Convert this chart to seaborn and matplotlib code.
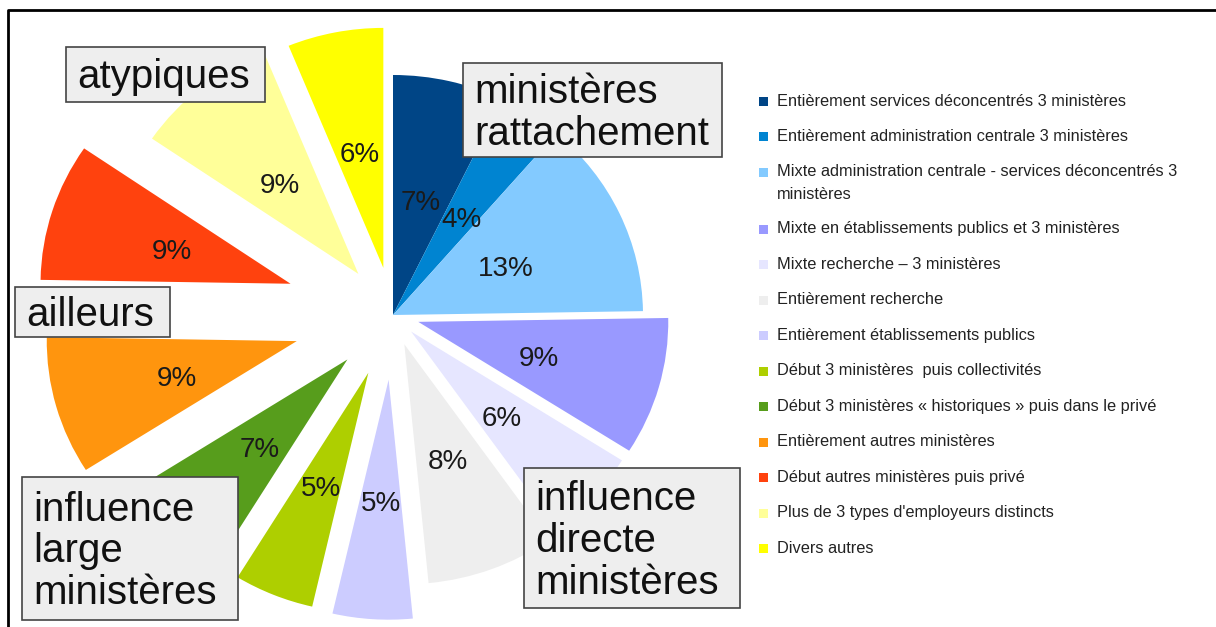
import matplotlib
matplotlib.use("Agg")
import matplotlib.pyplot as plt
import seaborn as sns
from matplotlib.patches import Rectangle
from matplotlib.lines import Line2D

# ---- data ----
categories = [
    "Entièrement services déconcentrés 3 ministères",
    "Entièrement administration centrale 3 ministères",
    "Mixte administration centrale - services déconcentrés 3\nministères",
    "Mixte en établissements publics et 3 ministères",
    "Mixte recherche – 3 ministères",
    "Entièrement recherche",
    "Entièrement établissements publics",
    "Début 3 ministères  puis collectivités",
    "Début 3 ministères « historiques » puis dans le privé",
    "Entièrement autres ministères",
    "Début autres ministères puis privé",
    "Plus de 3 types d'employeurs distincts",
    "Divers autres",
]
values = [7, 4, 13, 9, 6, 8, 5, 5, 7, 9, 9, 9, 6]
group_labels = ["atypiques", "ministères\nrattachement", "ailleurs",
                "influence\nlarge\nministères", "influence\ndirecte\nministères"]

# ---- style ----
colors = ["#004586", "#0084d1", "#83caff", "#9999ff", "#e6e6ff", "#eeeeee",
          "#ccccff", "#aecf00", "#579d1c", "#ff950e", "#ff420e", "#ffff99", "#ffff00"]
explode = [0, 0, 0, 0.105, 0.1, 0.13, 0.27, 0.26, 0.26, 0.40, 0.43, 0.22, 0.2]

sns.set_theme(style="white")
plt.rcParams['font.family'] = ['Liberation Sans', 'DejaVu Sans']

W, H = 1216, 627
fig = plt.figure(figsize=(W / 100, H / 100), dpi=100)
fig.patch.set_facecolor("white")

# pie axes: centre at pixel (cx, cy) measured from top-left
cx, cy = 393, 315
rx, ry = 250, 240
axp = fig.add_axes([0, 0, 1, 1])
total = sum(values)
wedges, texts, autotexts = axp.pie(
    values, colors=colors, explode=explode, startangle=90, counterclock=False,
    autopct=lambda p: f"{p * total / 100:.0f}%", pctdistance=0.5,
    wedgeprops=dict(linewidth=0),
    textprops=dict(fontsize=20, color="#1a1a1a"), frame=False)
for t in autotexts:
    x, y = t.get_position()
    t.set_position((x, y - 5 / ry))
axp.set_aspect("auto")
axp.set_xlim(-cx / rx, (W - cx) / rx)
axp.set_ylim(-(H - cy) / ry, cy / ry)
axp.axis("off")

# overlay axes in pixel coordinates for boxes, legend and frame
axo = fig.add_axes([0, 0, 1, 1])
axo.set_xlim(0, W)
axo.set_ylim(H, 0)
axo.axis("off")
axo.patch.set_alpha(0)

# frame (left and top)
axo.add_line(Line2D([8, 8, W], [H, 10, 10], color="black", lw=2))

# group boxes: (x0, y0, x1, y1)
boxes = [(66, 47, 265, 102), (463, 63, 722, 157), (15, 287, 170, 337),
         (22, 477, 238, 620), (524, 468, 740, 608)]
for lab, (x0, y0, x1, y1) in zip(group_labels, boxes):
    axo.add_patch(Rectangle((x0, y0), x1 - x0, y1 - y0, facecolor="#eeeeee",
                            edgecolor="#444444", lw=1.2, zorder=5))
    axo.text(x0 + 11, (y0 + y1) / 2 + 3, lab, fontsize=29, color="#111111",
             ha="left", va="center", linespacing=1.12, zorder=6)

# legend
y = 101
for lab, col in zip(categories, colors):
    axo.add_patch(Rectangle((759, y - 4.5), 9, 9, facecolor=col, edgecolor="none"))
    axo.text(777, y - 7.5, lab, fontsize=11.8, color="#222222", ha="left", va="top",
             linespacing=1.6)
    nlines = lab.count("\n") + 1
    y += 35.5 + 21.5 * (nlines - 1)

fig.savefig("out.png", dpi=100, facecolor="white")
